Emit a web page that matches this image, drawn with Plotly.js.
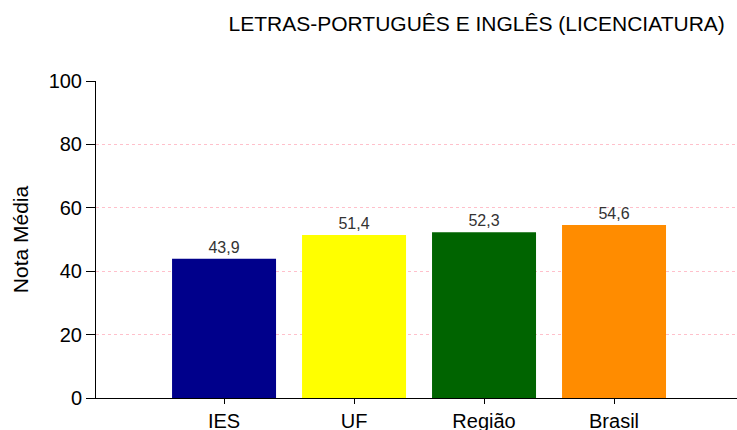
<!DOCTYPE html>
<html>
<head>
<meta charset="utf-8">
<script src="https://cdn.plot.ly/plotly-3.0.1.min.js"></script>
<style>html,body{margin:0;padding:0;background:#fff;}#chart{width:737px;height:430px;}</style>
</head>
<body>
<div id="chart"></div>
<script>
const categories = ["IES", "UF", "Região", "Brasil"];
const values = [43.9, 51.4, 52.3, 54.6];
const barColors = ["#00008B", "#FFFF00", "#006400", "#FF8C00"];
const yTicks = [0, 20, 40, 60, 80, 100];
const chartTitle = "LETRAS-PORTUGUÊS E INGLÊS (LICENCIATURA)";
const yTitle = "Nota Média";

const trace = {
  type: "bar",
  x: categories,
  y: values,
  marker: {color: barColors, line: {width: 0}},
  width: 0.8,
  texttemplate: "%{y:.1f}",
  textposition: "outside",
  textfont: {family: "Liberation Sans, Arial, sans-serif", size: 16, color: "#333333"},
  cliponaxis: false,
  hoverinfo: "none"
};

const layout = {
  width: 737,
  height: 430,
  margin: {l: 96, r: 0, t: 81, b: 32},
  paper_bgcolor: "#ffffff",
  plot_bgcolor: "#ffffff",
  separators: ",.",
  showlegend: false,
  font: {family: "Liberation Sans, Arial, sans-serif", color: "#000000"},
  title: {
    text: chartTitle,
    font: {size: 21, color: "#000000"},
    x: 0.981, xanchor: "right", xref: "paper",
    y: 0.945, yanchor: "middle"
  },
  xaxis: {
    type: "category",
    range: [-0.985, 3.946],
    showline: true, linecolor: "#000000", linewidth: 1,
    ticks: "outside", ticklen: 5, tickcolor: "#000000",
    tickfont: {size: 20, color: "#000000"},
    showgrid: false, zeroline: false, fixedrange: true
  },
  yaxis: {
    range: [0, 100],
    tickvals: yTicks,
    showline: true, linecolor: "#000000", linewidth: 1,
    ticks: "outside", ticklen: 9, tickcolor: "#000000",
    tickfont: {size: 20, color: "#000000"},
    showgrid: true, gridcolor: "#ffc0cb", griddash: "dot", gridwidth: 1,
    zeroline: false,
    title: {text: yTitle, font: {size: 21, color: "#000000"}, standoff: 14},
    fixedrange: true
  }
};

Plotly.newPlot("chart", [trace], layout, {displayModeBar: false, staticPlot: true});
</script>
</body>
</html>
